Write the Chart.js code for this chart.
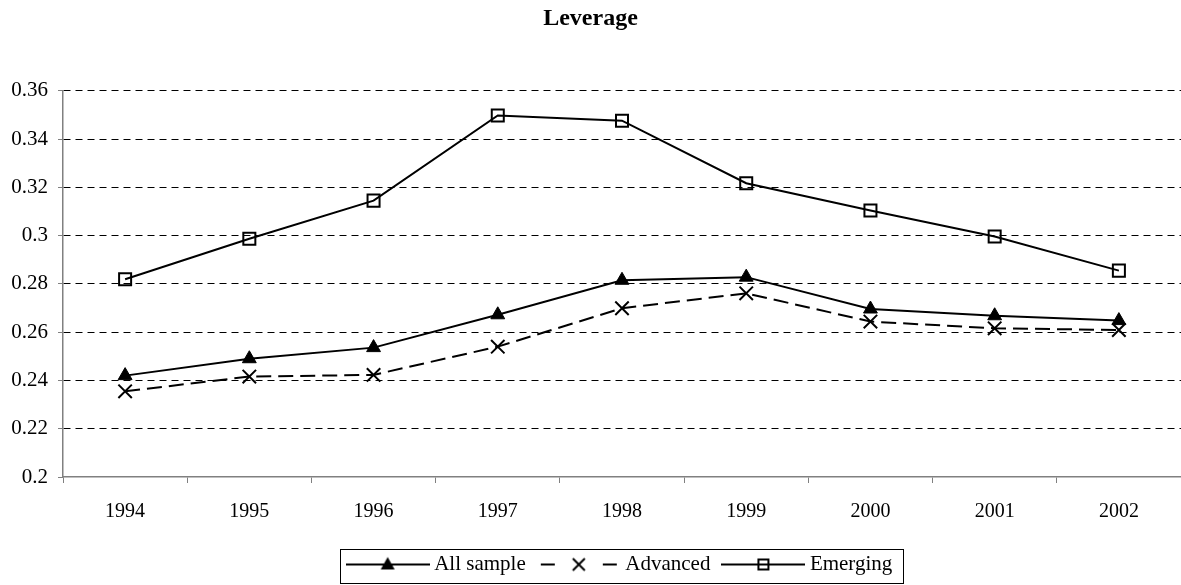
<!DOCTYPE html>
<html>
<head>
<meta charset="utf-8">
<title>Leverage</title>
<script src="https://cdn.jsdelivr.net/npm/chart.js@4.4.1/dist/chart.umd.min.js"></script>
<style>
  html, body { margin: 0; padding: 0; background: #fff; }
  #wrap { width: 1181px; height: 585px; position: relative; }
</style>
</head>
<body>
<div id="wrap"><canvas id="leverageChart"></canvas></div>
<script>
const years = ['1994', '1995', '1996', '1997', '1998', '1999', '2000', '2001', '2002'];
const allSample = [0.242, 0.249, 0.2536, 0.2672, 0.2815, 0.2828, 0.2696, 0.2668, 0.2648];
const advanced = [0.2355, 0.2416, 0.2423, 0.254, 0.2699, 0.2761, 0.2644, 0.2616, 0.2609];
const emerging = [0.2819, 0.2987, 0.3145, 0.3498, 0.3476, 0.3217, 0.3104, 0.2996, 0.2855];
const yMin = 0.2;
const yMax = 0.36;
const yStep = 0.02;

Chart.defaults.font.family = "'Liberation Serif', 'Times New Roman', serif";
Chart.defaults.color = '#000';

// small picture of line + marker for each legend entry
function swatch(kind) {
  const c = document.createElement('canvas');
  c.width = 84;
  c.height = 20;
  const g = c.getContext('2d');
  g.strokeStyle = '#000';
  g.fillStyle = '#000';
  g.lineWidth = 2;
  g.beginPath();
  if (kind === 'advanced') {
    g.moveTo(4, 10); g.lineTo(18, 10);
    g.moveTo(66, 10); g.lineTo(80, 10);
  } else {
    g.moveTo(0, 10); g.lineTo(84, 10);
  }
  g.stroke();
  g.beginPath();
  if (kind === 'all') {
    g.moveTo(42, 2.5); g.lineTo(49, 15); g.lineTo(35, 15);
    g.closePath();
    g.fill();
  } else if (kind === 'advanced') {
    g.moveTo(36, 4); g.lineTo(48, 16);
    g.moveTo(48, 4); g.lineTo(36, 16);
    g.stroke();
  } else {
    g.rect(37, 5, 10, 10);
    g.stroke();
  }
  return c;
}

const legendBorder = {
  id: 'legendBorder',
  afterDraw(chart) {
    const hb = chart.legend && chart.legend.legendHitBoxes;
    if (!hb || !hb.length) return;
    const last = hb[hb.length - 1];
    const left = Math.round(hb[0].left - 12) + 0.5;
    const right = Math.round(last.left + last.width + 11) + 0.5;
    const mid = hb[0].top + 10.5;
    const top = Math.round(mid - 16) + 0.5;
    const ctx = chart.ctx;
    ctx.save();
    ctx.strokeStyle = '#000';
    ctx.lineWidth = 1;
    ctx.strokeRect(left, top, right - left, 34);
    ctx.restore();
  }
};

const swatches = { all: swatch('all'), advanced: swatch('advanced'), emerging: swatch('emerging') };

new Chart(document.getElementById('leverageChart'), {
  type: 'line',
  data: {
    labels: years,
    datasets: [{
      label: 'All sample',
      data: allSample,
      borderColor: '#000',
      borderWidth: 2,
      pointStyle: 'triangle',
      pointRadius: 8,
      pointBackgroundColor: '#000',
      pointBorderColor: '#000',
      pointBorderWidth: 1,
      tension: 0
    }, {
      label: 'Advanced',
      data: advanced,
      borderColor: '#000',
      borderWidth: 2,
      borderDash: [15, 7],
      pointStyle: 'crossRot',
      pointRadius: 9.5,
      pointBorderColor: '#000',
      pointBorderWidth: 2,
      tension: 0
    }, {
      label: 'Emerging',
      data: emerging,
      borderColor: '#000',
      borderWidth: 2,
      pointStyle: 'rect',
      pointRadius: 8.5,
      pointBackgroundColor: 'rgba(0,0,0,0)',
      pointBorderColor: '#000',
      pointBorderWidth: 2,
      tension: 0
    }]
  },
  options: {
    responsive: true,
    maintainAspectRatio: false,
    animation: false,
    layout: { padding: 0, autoPadding: false },
    plugins: {
      title: {
        display: true,
        text: 'Leverage',
        color: '#000',
        font: { size: 24, weight: 'bold' },
        padding: { top: 4, bottom: 58 }
      },
      legend: {
        position: 'bottom',
        fullSize: false,
        labels: {
          usePointStyle: true,
          pointStyleWidth: 72,
          padding: 17,
          color: '#000',
          font: { size: 21 },
          generateLabels: (chart) => [
            { text: 'All sample', pointStyle: swatches.all, lineWidth: 0, datasetIndex: 0, hidden: false },
            { text: 'Advanced', pointStyle: swatches.advanced, lineWidth: 0, datasetIndex: 1, hidden: false },
            { text: 'Emerging', pointStyle: swatches.emerging, lineWidth: 0, datasetIndex: 2, hidden: false }
          ]
        }
      },
      tooltip: { enabled: false }
    },
    scales: {
      x: {
        offset: true,
        afterFit: (scale) => {
          scale.height = 60;
          scale.paddingLeft = 0;
          scale.paddingRight = 0;
        },
        grid: {
          offset: true,
          drawOnChartArea: false,
          drawTicks: true,
          tickLength: 6,
          color: '#808080'
        },
        border: { display: true, color: '#808080', width: 1.5 },
        ticks: { color: '#000', font: { size: 20 }, padding: 17, maxRotation: 0, autoSkip: false }
      },
      y: {
        min: yMin,
        max: yMax,
        afterFit: (scale) => { scale.width = 63; },
        grid: {
          color: (ctx) => ctx.index === 0 ? 'rgba(0,0,0,0)' : '#000',
          tickColor: '#808080',
          tickBorderDash: [],
          tickLength: 5,
          lineWidth: 1
        },
        border: { display: true, color: '#808080', width: 1.5, dash: [7, 5] },
        ticks: {
          stepSize: yStep,
          padding: 10,
          color: '#000',
          font: { size: 21 },
          callback: (v) => String(Number(v.toFixed(2)))
        }
      }
    }
  },
  plugins: [legendBorder]
});
</script>
</body>
</html>
